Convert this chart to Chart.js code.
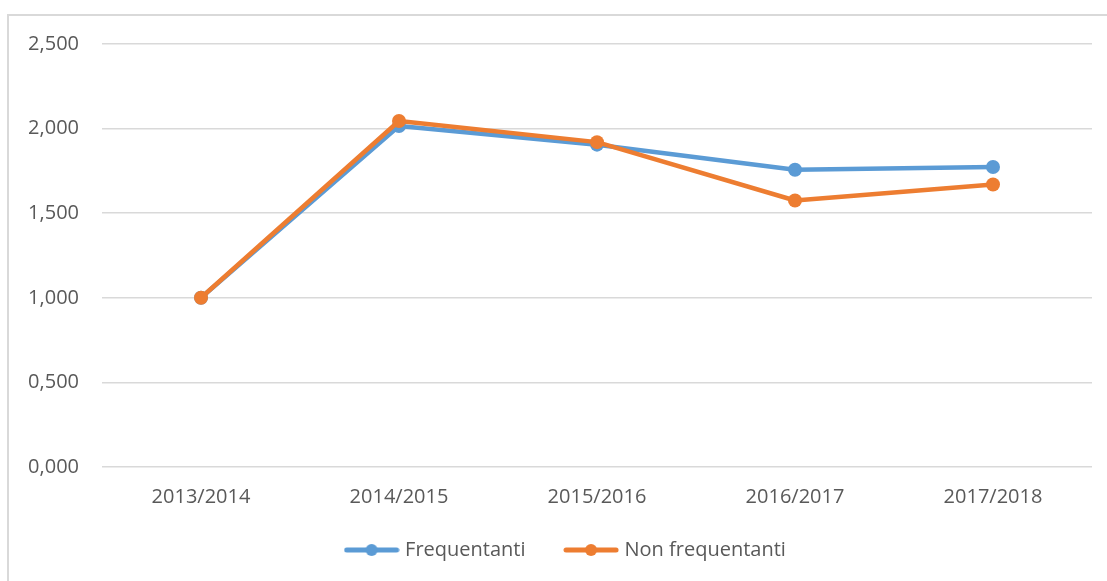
<!DOCTYPE html>
<html>
<head>
<meta charset="utf-8">
<script src="https://cdn.jsdelivr.net/npm/chart.js@4"></script>
<style>
  body { margin: 0; background: #fff; overflow: hidden; }
  #frame { position: absolute; left: 7px; top: 14px; width: 1200px; height: 700px; border: 2px solid #d9d9d9; }
  #chart { position: absolute; left: 0; top: 0; }
</style>
</head>
<body>
<div id="frame"></div>
<canvas id="chart" width="1107" height="581"></canvas>
<script>
// Data
const years = ['2013/2014', '2014/2015', '2015/2016', '2016/2017', '2017/2018'];
const frequentanti = [1.000, 2.015, 1.905, 1.757, 1.773];
const nonFrequentanti = [1.000, 2.045, 1.920, 1.575, 1.670];

const BLUE = '#5B9BD5';
const ORANGE = '#ED7D31';
const TEXT = '#595959';
const FONT = "'Open Sans', sans-serif";

// legend icon: line with a dot in the middle
function legendIcon(color) {
    const c = document.createElement('canvas');
    c.width = 56;
    c.height = 16;
    const g = c.getContext('2d');
    g.strokeStyle = color;
    g.lineWidth = 5;
    g.lineCap = 'round';
    g.beginPath();
    g.moveTo(3, 8);
    g.lineTo(53, 8);
    g.stroke();
    g.fillStyle = color;
    g.beginPath();
    g.arc(28, 8, 6, 0, Math.PI * 2);
    g.fill();
    return c;
}

function series(label, data, color, order) {
    return {
        label: label,
        data: data,
        borderColor: color,
        backgroundColor: color,
        borderWidth: 4.5,
        borderJoinStyle: 'round',
        borderCapStyle: 'round',
        pointRadius: 7,
        pointBorderWidth: 0,
        pointBackgroundColor: color,
        pointStyle: 'circle',
        tension: 0,
        order: order
    };
}

const icons = [legendIcon(BLUE), legendIcon(ORANGE)];

// move the legend a bit so it sits where the original one is
const legendPlace = {
    id: 'legendPlace',
    afterLayout(chart) {
        const lg = chart.legend;
        lg.left = 42;
        lg.top = 498;
    }
};

new Chart(document.getElementById('chart').getContext('2d'), {
    type: 'line',
    data: {
        labels: years,
        datasets: [
            series('Frequentanti', frequentanti, BLUE, 1),
            series('Non frequentanti', nonFrequentanti, ORANGE, 0)
        ]
    },
    plugins: [legendPlace],
    options: {
        responsive: false,
        animation: false,
        layout: { padding: { left: 0, right: 15, top: 44, bottom: 0 } },
        plugins: {
            tooltip: { enabled: false },
            legend: {
                position: 'bottom',
                labels: {
                    font: { family: FONT, size: 20 },
                    color: TEXT,
                    usePointStyle: true,
                    pointStyleWidth: 47,
                    padding: 42,
                    sort: (a, b) => a.datasetIndex - b.datasetIndex,
                    generateLabels: chart => chart.data.datasets.map((ds, i) => ({
                        text: ds.label,
                        fillStyle: ds.borderColor,
                        strokeStyle: ds.borderColor,
                        lineWidth: 0,
                        pointStyle: icons[i],
                        fontColor: TEXT,
                        datasetIndex: i,
                        hidden: false
                    }))
                }
            }
        },
        scales: {
            x: {
                offset: true,
                grid: { display: false, drawTicks: false },
                border: { display: false },
                ticks: { font: { family: FONT, size: 20 }, color: TEXT, padding: 18, maxRotation: 0 },
                afterFit: scale => { scale.height = 42; }
            },
            y: {
                min: 0,
                max: 2.5,
                grid: { color: '#d9d9d9', lineWidth: 1.5, drawTicks: false },
                border: { display: false },
                ticks: {
                    stepSize: 0.5,
                    padding: 23,
                    font: { family: FONT, size: 20 },
                    color: TEXT,
                    callback: v => v.toFixed(3).replace('.', ',')
                },
                afterFit: scale => { scale.width = 102; }
            }
        }
    }
});
</script>
</body>
</html>
